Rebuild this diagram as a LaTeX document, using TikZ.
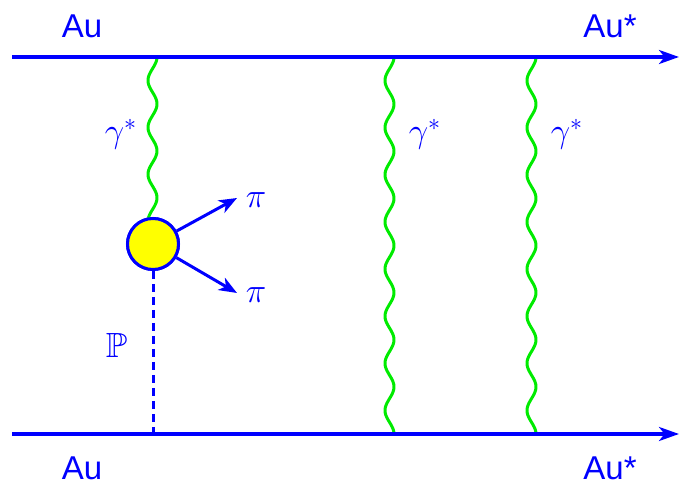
\documentclass[tikz,border=0pt]{standalone}
\usepackage{fontspec}
\usepackage{amssymb}
\setmainfont{Liberation Sans}
\usetikzlibrary{arrows.meta,calc}
\definecolor{ublue}{RGB}{0,0,255}
\definecolor{ugreen}{RGB}{0,235,0}
\definecolor{uyellow}{RGB}{255,255,0}
\begin{document}
\begin{tikzpicture}[x=0.5pt,y=-0.5pt,
  lbl/.style={text=ublue,inner sep=0pt,anchor=base,font=\fontsize{16.5}{20}\selectfont},
  mlbl/.style={text=ublue,inner sep=0pt,anchor=base,font=\fontsize{17.5}{20}\selectfont},
  beam/.style={draw=ublue,line width=1.6pt,-{Stealth[length=10pt,width=7pt,inset=2.8pt]}},
  photon/.style={draw=ugreen,line width=1.5pt,line join=round},
  pomeron/.style={draw=ublue,line width=1.5pt,dash pattern=on 4pt off 2.5pt},
  pionarrow/.style={draw=ublue,line width=1.5pt,-{Stealth[length=9pt,width=7pt,inset=2.6pt]}},
  blobstyle/.style={circle,draw=ublue,fill=uyellow,line width=1.5pt,minimum size=25.5pt,inner sep=0pt}]
\useasboundingbox (0,0) rectangle (682,485);
% coordinates
\coordinate (tl) at (12,57);
\coordinate (tr) at (679,57);
\coordinate (bl) at (12,434);
\coordinate (br) at (679,434);
\coordinate (p1t) at (152.5,57);
\coordinate (p1b) at (153,434);
\coordinate (p1e) at (152.5,218);
\coordinate (p2t) at (389.5,57);
\coordinate (p2b) at (389.5,434);
\coordinate (p3t) at (531.5,57);
\coordinate (p3b) at (531.5,434);
\coordinate (pitop) at (237,198);
\coordinate (pibot) at (237,293);
% photons and pomeron
\node[blobstyle] (blob) at (153,244) {};
\draw[photon] let \p1=(p1t), \p2=(p1e) in
  plot[variable=\t,domain=0:1,samples=160,smooth] ({\x1+2.25pt*cos(3.43*360*\t)},{\y1+(\y2-\y1)*\t});
\draw[photon] let \p1=(p2t), \p2=(p2b) in
  plot[variable=\t,domain=0:1,samples=300,smooth] ({\x1+2.25pt*cos(8*360*\t)},{\y1+(\y2-\y1)*\t});
\draw[photon] let \p1=(p3t), \p2=(p3b) in
  plot[variable=\t,domain=0:1,samples=300,smooth] ({\x1+2.25pt*cos(8*360*\t)},{\y1+(\y2-\y1)*\t});
\draw[pomeron] (blob.south) -- (p1b);
\node[blobstyle] at (blob) {};
% beams
\draw[beam] (tl) -- (tr);
\draw[beam] (bl) -- (br);
% pions
\draw[pionarrow] (blob) -- (pitop);
\draw[pionarrow] (blob) -- (pibot);
% labels
\node[lbl] (autl) at (82,38) {Au};
\node[lbl] (autr) at (610,38) {Au*};
\node[lbl] (aubl) at (82,480) {Au};
\node[lbl] (aubr) at (610,480) {Au*};
\node[mlbl] (g1) at (121,143) {$\gamma^*$};
\node[mlbl] (g2) at (425,143) {$\gamma^*$};
\node[mlbl] (g3) at (567,143) {$\gamma^*$};
\node[mlbl] (pi1) at (256,208) {$\pi$};
\node[mlbl] (pi2) at (256,303) {$\pi$};
\node[mlbl] (pom) at (116.5,358) {$\mathbb{P}$};
\end{tikzpicture}
\end{document}
